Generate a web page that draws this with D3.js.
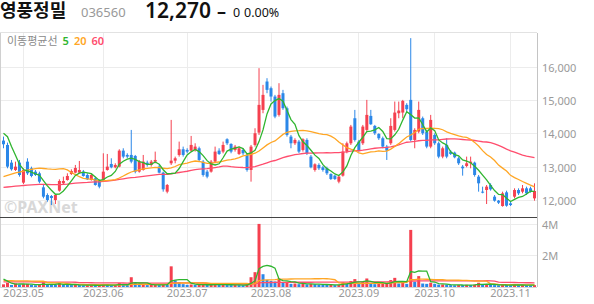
<!DOCTYPE html>
<html>
<head>
<meta charset="utf-8">
<script src="https://cdn.jsdelivr.net/npm/d3@7"></script>
<style>
  body { margin: 0; background: #fff; }
  svg { display: block; font-family: "Noto Sans", "Noto Sans CJK KR", sans-serif; }
</style>
</head>
<body>
<svg id="chart" width="594" height="304"></svg>
<script>
// trading days shown, grouped by month
const months = ["2023.04", "2023.05", "2023.06", "2023.07", "2023.08", "2023.09", "2023.10", "2023.11"];
const monthDays = [
  [24, 25, 26, 27, 28],
  [2, 3, 4, 8, 9, 10, 11, 12, 15, 16, 17, 18, 19, 22, 23, 24, 25, 26, 30, 31],
  [1, 2, 5, 7, 8, 9, 12, 13, 14, 15, 16, 19, 20, 21, 22, 23, 26, 27, 28, 29, 30],
  [3, 4, 5, 6, 7, 10, 11, 12, 13, 14, 17, 18, 19, 20, 21, 24, 25, 26, 27, 28, 31],
  [1, 2, 3, 4, 7, 8, 9, 10, 11, 14, 16, 17, 18, 21, 22, 23, 24, 25, 28, 29, 30, 31],
  [1, 4, 5, 6, 7, 8, 11, 12, 13, 14, 15, 18, 19, 20, 21, 22, 25, 26, 27],
  [4, 5, 6, 10, 11, 12, 13, 16, 17, 18, 19, 20, 23, 24, 25, 26, 27, 30, 31],
  [1, 2, 3, 6, 7, 8, 9]
];

const opens = [
  13780,13650,13120,12900,13120,12520,13150,12950,12850,12800,
  12380,12150,12120,12000,12280,12500,12600,12780,12820,12820,
  12850,12750,12600,12650,12600,12600,12900,13080,12980,13000,
  13480,13350,13350,13320,12850,12900,13120,13050,13150,13000,
  12820,12250,13100,13180,13350,13520,13500,13480,13500,13550,
  13150,12850,12850,13150,13480,13450,13820,13680,13500,13380,
  13500,13350,12900,13650,14020,14700,15550,15350,15100,14550,
  15200,14750,13900,13700,13750,13500,13800,13300,12900,13050,
  12980,12950,12780,12730,12550,12730,13450,13700,14450,13750,
  13700,14100,14520,14220,13980,13850,13600,13700,14100,14600,
  14620,14850,15000,13800,14050,14450,14050,13600,13950,13700,
  13300,13650,13450,13420,13250,13000,13020,13100,13120,12700,
  12250,12300,12450,12100,11980,11820,12230,11900,12100,12300,
  12250,12350,12350,12050
];
const highs = [
  13900,13720,13200,13150,13200,12950,13250,13000,12900,12850,
  12450,12200,12150,12170,12620,12700,12800,12920,13050,13170,
  12900,12800,12780,12700,12620,13400,13380,13250,13100,13520,
  13550,13400,14100,13350,13200,13350,13180,13200,13450,13050,
  12850,12480,14400,13300,13750,13600,13550,13920,13700,13600,
  13200,12900,13200,13600,13550,13750,13850,13700,13650,13600,
  13550,13400,13650,14150,15950,15450,15650,15400,15150,15500,
  15300,14800,13950,13850,13800,13850,13850,13350,13100,13100,
  13020,13000,12800,12750,12720,13700,13750,14250,14700,13800,
  14250,15000,14700,14250,14000,13900,13650,14450,14950,14950,
  15000,14900,16850,14150,14950,14500,14100,14550,14000,13750,
  13600,13850,13500,13450,13300,13050,13300,13300,13150,12750,
  12400,12450,12500,12150,12000,12250,12280,11950,12350,12350,
  12450,12400,12400,12500
];
const lows = [
  13550,12950,12880,12870,12700,12480,12750,12680,12720,12500,
  12050,11950,11850,11880,12250,12480,12580,12750,12800,12800,
  12700,12600,12580,12430,12350,12580,12880,12950,12950,12980,
  13250,13250,13100,12800,12820,12880,13000,13000,13100,12800,
  12250,12200,13050,13100,13300,13300,13400,13450,13450,13150,
  12700,12650,12820,13100,13350,13400,13650,13400,13450,13350,
  13350,12850,12550,13600,13950,14600,15200,14950,14450,14500,
  14700,13900,13550,13650,13400,13450,13350,12950,12850,12900,
  12850,12750,12600,12600,12500,12700,13400,13650,13750,13450,
  13650,14050,14250,13950,13800,13550,13200,13650,14050,14450,
  14450,14650,13750,13550,14000,13950,13550,13550,13650,13250,
  13250,13250,13350,13250,13050,12730,12980,12950,12700,12250,
  12200,11880,12280,11950,11880,11800,11800,11820,12050,12150,
  12200,12150,12220,11980
];
const closes = [
  13670,13000,12920,13000,12750,12900,12800,12720,12750,12550,
  12100,12000,12060,12150,12570,12570,12720,12870,12960,12900,
  12720,12620,12750,12450,12400,12850,13000,12980,13050,13480,
  13300,13300,13150,12850,13150,13150,13050,13150,13200,12820,
  12320,12450,13180,13250,13520,13350,13450,13650,13600,13200,
  12750,12700,13150,13450,13380,13650,13700,13450,13600,13550,
  13400,12900,13600,14000,14850,15150,15300,15100,14500,15150,
  14750,13950,13700,13800,13450,13820,13400,12980,13070,12950,
  12900,12800,12630,12630,12700,13450,13700,14200,13800,13500,
  14200,14550,14270,14000,13850,13600,13480,14220,14620,14680,
  14970,14720,13800,14100,14700,14000,13600,14400,13700,13300,
  13550,13300,13380,13280,13100,12950,13100,13150,12750,12500,
  12220,12400,12320,11980,11920,12200,11830,11850,12300,12200,
  12350,12200,12270,12270
];
const volumes = [
  170000,270000,130000,230000,150000,180000,200000,130000,110000,140000,
  300000,160000,140000,130000,250000,150000,140000,120000,130000,120000,
  100000,110000,120000,100000,110000,150000,140000,100000,110000,250000,
  140000,120000,620000,250000,140000,160000,120000,130000,140000,120000,
  180000,150000,1310000,420000,300000,180000,140000,160000,130000,140000,
  160000,130000,150000,180000,130000,150000,140000,120000,130000,120000,
  110000,150000,620000,940000,4000000,810000,450000,380000,350000,550000,
  300000,330000,200000,220000,180000,200000,170000,190000,180000,150000,
  140000,130000,160000,120000,140000,300000,250000,380000,500000,220000,
  330000,540000,220000,180000,200000,220000,280000,440000,580000,220000,
  260000,200000,3620000,330000,690000,220000,200000,270000,200000,150000,
  160000,150000,120000,110000,130000,120000,140000,120000,150000,270000,
  150000,180000,130000,120000,110000,140000,130000,110000,140000,120000,
  130000,110000,100000,120000
];

// sessions before the visible window, only feed the moving averages
const priorCloses = [
  12150,12200,12250,12180,12220,12300,12250,12200,12150,12100,
  12180,12250,12300,12280,12220,12200,12150,12180,12230,12260,
  12240,12200,12170,12150,12200,12250,12300,12260,12220,12190,
  12160,12200,12240,12270,12230,12200,12180,12210,12240,12220,
  12250,12200,12230,12280,12300,12250,12220,12270,12310,12290,
  12250,12230,12260,12300,12350,13500,14400,14300,14120
];
const priorVolumes = [
  260000,280000,250000,270000,240000,290000,260000,250000,270000,280000,
  260000,240000,250000,270000,290000,260000,250000,270000,1500000,260000,
  250000,280000,270000,240000,260000,250000,290000,270000,260000,250000,
  240000,280000,270000,260000,250000,270000,260000,280000,250000,260000,
  250000,240000,260000,250000,270000,240000,250000,260000,250000,240000,
  2000000,250000,260000,240000,250000,900000,800000,500000,130000
];

const priceTicks = [12000, 13000, 14000, 15000, 16000];
const volumeTicks = [2000000, 4000000];
const maPeriods = [60, 20, 5];

var UP_COLOR = "#f5404f",
    DOWN_COLOR = "#2b87e8",
    MA_COLORS = {5: "#2fb52f", 20: "#ffa624", 60: "#ff4d6d"},
    GRID_COLOR = "#ececec",
    LABEL_COLOR = "#9a9a9a";

var svg = d3.select("#chart");

var plot = {left: 1, right: 537, top: 33, priceBottom: 217, volTop: 218, volBottom: 287};

var dates = [];
months.forEach(function(m, k) {
  monthDays[k].forEach(function(d) { dates.push(m + "." + String(d).padStart(2, "0")); });
});
// first session of each month (the partial first month gets no tick)
var monthStarts = months.slice(1).map(function(m, k) {
  return m + "." + String(monthDays[k + 1][0]).padStart(2, "0");
});

var candles = dates.map(function(d, i) {
  return {date: d, open: opens[i], high: highs[i], low: lows[i], close: closes[i], volume: volumes[i],
          volUp: volumes[i] >= (i ? volumes[i - 1] : priorVolumes[priorVolumes.length - 1])};
});

var x = d3.scaleBand().domain(dates).range([plot.left, plot.right - 1]);
var cx = function(d) { return x(d) + 2.5; };

var y = d3.scaleLinear().domain([11491, 17004]).range([plot.priceBottom, plot.top]);
var yv = d3.scaleLinear().domain([0, 4400000]).range([plot.volBottom, plot.volBottom - 69.4]);

function movingAverage(values, prior, n) {
  var all = prior.concat(values);
  return values.map(function(v, i) {
    var end = prior.length + i + 1;
    return d3.mean(all.slice(end - n, end));
  });
}

// ---- grid ----
var grid = svg.append("g");
grid.selectAll(".vgrid").data(monthStarts).enter().append("line")
  .attr("x1", function(d) { return Math.floor(cx(d)) + 0.5; })
  .attr("x2", function(d) { return Math.floor(cx(d)) + 0.5; })
  .attr("y1", plot.top).attr("y2", plot.volBottom)
  .attr("stroke", GRID_COLOR);
grid.selectAll(".pgrid").data(priceTicks).enter().append("line")
  .attr("x1", plot.left).attr("x2", plot.right)
  .attr("y1", function(d) { return Math.round(y(d)) + 0.5; })
  .attr("y2", function(d) { return Math.round(y(d)) + 0.5; })
  .attr("stroke", GRID_COLOR);
grid.selectAll(".vlgrid").data(volumeTicks).enter().append("line")
  .attr("x1", plot.left).attr("x2", plot.right)
  .attr("y1", function(d) { return Math.round(yv(d)) + 0.5; })
  .attr("y2", function(d) { return Math.round(yv(d)) + 0.5; })
  .attr("stroke", GRID_COLOR);

// frame
svg.append("line").attr("x1", 0).attr("x2", plot.right).attr("y1", plot.top - 0.5).attr("y2", plot.top - 0.5)
  .attr("stroke", "#e2e2e2");
svg.append("line").attr("x1", 0.5).attr("x2", 0.5).attr("y1", plot.top).attr("y2", plot.volBottom)
  .attr("stroke", "#d0d0d0");
svg.append("line").attr("x1", plot.right + 0.5).attr("x2", plot.right + 0.5).attr("y1", plot.top).attr("y2", plot.volBottom)
  .attr("stroke", "#c4c4c4");
svg.append("line").attr("x1", 0).attr("x2", plot.right).attr("y1", plot.volBottom + 0.5).attr("y2", plot.volBottom + 0.5)
  .attr("stroke", "#d6d6d6");

// watermark
svg.append("text").attr("x", 4).attr("y", 213)
  .attr("font-size", 16).attr("font-weight", 700).attr("fill", "#d8d8d8")
  .attr("font-family", "'Noto Sans', sans-serif")
  .text("©PAXNet");

// ---- candles ----
var cg = svg.append("g");
cg.selectAll(".wick").data(candles).enter().append("line")
  .attr("x1", function(d) { return x(d.date) + 2.5; })
  .attr("x2", function(d) { return x(d.date) + 2.5; })
  .attr("y1", function(d) { return y(d.high); })
  .attr("y2", function(d) { return y(d.low); })
  .attr("stroke", function(d) { return d.close >= d.open ? UP_COLOR : DOWN_COLOR; });
cg.selectAll(".body").data(candles).enter().append("rect")
  .attr("x", function(d) { return x(d.date) + 1; })
  .attr("width", 3)
  .attr("y", function(d) { return y(Math.max(d.open, d.close)); })
  .attr("height", function(d) { return Math.max(1, Math.abs(y(d.open) - y(d.close))); })
  .attr("fill", function(d) { return d.close >= d.open ? UP_COLOR : DOWN_COLOR; });

// ---- price moving averages ----
maPeriods.forEach(function(n) {
  var ma = movingAverage(closes, priorCloses, n);
  var line = d3.line()
    .x(function(d, i) { return cx(dates[i]); })
    .y(function(d) { return y(d); });
  svg.append("path").datum(ma)
    .attr("d", line)
    .attr("fill", "none")
    .attr("stroke", MA_COLORS[n])
    .attr("stroke-width", 1.3);
});

// panel separator
svg.append("line").attr("x1", 0).attr("x2", plot.right).attr("y1", plot.priceBottom + 0.5).attr("y2", plot.priceBottom + 0.5)
  .attr("stroke", "#444").attr("stroke-width", 1.2);

// ---- volume ----
svg.append("g").selectAll("rect").data(candles).enter().append("rect")
  .attr("x", function(d) { return x(d.date) + 1; })
  .attr("width", 3)
  .attr("y", function(d) { return yv(d.volume); })
  .attr("height", function(d) { return plot.volBottom - yv(d.volume); })
  .attr("fill", function(d) { return d.volUp ? UP_COLOR : DOWN_COLOR; });

maPeriods.forEach(function(n) {
  var ma = movingAverage(volumes, priorVolumes, n);
  var line = d3.line()
    .x(function(d, i) { return cx(dates[i]); })
    .y(function(d) { return yv(d); });
  svg.append("path").datum(ma)
    .attr("d", line)
    .attr("fill", "none")
    .attr("stroke", MA_COLORS[n])
    .attr("stroke-width", 1.3);
});

// ---- axes labels ----
svg.append("g").selectAll("text").data(priceTicks).enter().append("text")
  .attr("x", 542).attr("y", function(d) { return y(d) + 5; })
  .attr("font-size", 11).attr("fill", LABEL_COLOR)
  .text(d3.format(","));
svg.append("g").selectAll("text").data(volumeTicks).enter().append("text")
  .attr("x", 542).attr("y", function(d) { return yv(d) + 5; })
  .attr("font-size", 11).attr("fill", LABEL_COLOR)
  .text(function(d) { return (d / 1000000) + "M"; });
svg.append("g").selectAll("text").data(monthStarts).enter().append("text")
  .attr("x", function(d) { return cx(d); }).attr("y", 297)
  .attr("text-anchor", "middle")
  .attr("font-size", 11).attr("fill", LABEL_COLOR)
  .text(function(d) { return d.slice(0, 7); });

// ---- legend ----
var legend = svg.append("text").attr("x", 7).attr("y", 45).attr("font-size", 11);
legend.append("tspan").attr("fill", "#8a8a8a").attr("font-family", "'Noto Sans CJK KR', sans-serif").text("이동평균선");
[5, 20, 60].forEach(function(n) {
  legend.append("tspan").attr("dx", 5).attr("fill", MA_COLORS[n]).attr("font-weight", 600).text(n);
});

// ---- header ----
var header = svg.append("g");
header.append("text").attr("x", 0).attr("y", 17)
  .attr("font-family", "'Noto Sans CJK KR', sans-serif").attr("font-size", 18).attr("font-weight", 700)
  .attr("fill", "#111").text("영풍정밀");
header.append("text").attr("x", 81).attr("y", 17)
  .attr("font-size", 13).attr("fill", "#999").text("036560");
header.append("text").attr("x", 145).attr("y", 17.5)
  .attr("font-size", 21).attr("font-weight", 600).attr("fill", "#111").text("12,270");
header.append("text").attr("x", 217).attr("y", 18)
  .attr("font-size", 18).attr("font-weight", 700).attr("fill", "#111").text("–");
header.append("text").attr("x", 233).attr("y", 17)
  .attr("font-size", 12.5).attr("fill", "#111").text("0");
header.append("text").attr("x", 244).attr("y", 17)
  .attr("font-size", 12.5).attr("fill", "#111").text("0.00%");
</script>
</body>
</html>
